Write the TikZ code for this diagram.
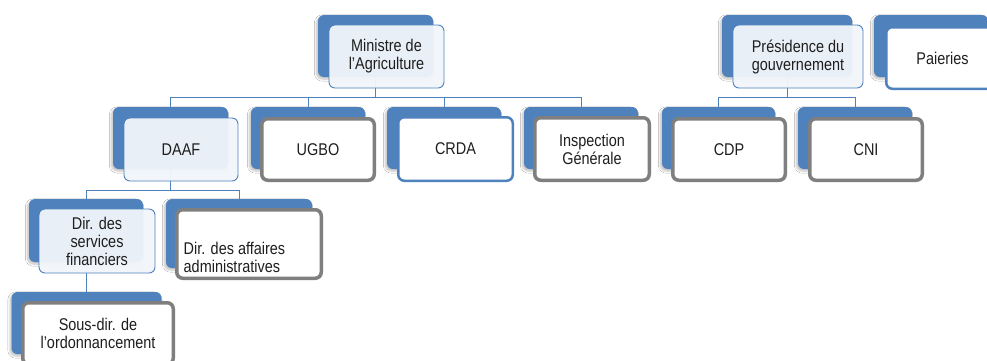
\documentclass[tikz,border=0pt]{standalone}
\usepackage{fontspec}
\setmainfont{Liberation Sans}[FakeStretch=0.85]
\usetikzlibrary{shadows.blur}
\definecolor{obl}{HTML}{4F81BD}
\definecolor{lbl}{HTML}{F2F5FA}
\definecolor{gbd}{HTML}{7F7F7F}
\definecolor{txt}{HTML}{1E1E1E}
\tikzset{
  sz/.style 2 args={minimum width=#1pt, minimum height=#2pt},
  back/.style={fill=obl, draw=none, rounded corners=6pt, inner sep=0pt, outer sep=0pt,
    blur shadow={shadow xshift=-1.5pt, shadow yshift=-2pt, shadow opacity=25, shadow blur steps=6}},
  frontlight/.style={fill=lbl, fill opacity=0.95, text opacity=1, draw=obl, line width=0.9pt, rounded corners=6pt,
    inner sep=0pt, outer sep=0pt, align=center, text=txt},
  frontgray/.style={fill=white, draw=gbd, line width=3.5pt, rounded corners=6pt,
    inner sep=0pt, outer sep=0pt, align=center, text=txt},
  frontblue/.style={fill=white, draw=obl, line width=2.5pt, rounded corners=6pt,
    inner sep=0pt, outer sep=0pt, align=center, text=txt},
  conn/.style={draw=obl, line width=1pt},
  lbltext/.style={inner sep=0pt, align=left, text=txt}
}
\begin{document}
\begin{tikzpicture}[x=1pt, y=-1pt, font=\fontsize{17}{18}\selectfont]
\useasboundingbox (0,0) rectangle (987,360);
\clip (0,0) rectangle (987,360);
\fill[white] (0,0) rectangle (987,360);
% back boxes
\node[back, sz={115}{62}] (minB) at (375.5,46) {};
\node[back, sz={130}{62}] (presB) at (787,46) {};
\node[back, sz={114}{62}] (paiB) at (931,46) {};
\node[back, sz={115}{62}] (daafB) at (170.5,138) {};
\node[back, sz={114}{62}] (ugboB) at (308,138) {};
\node[back, sz={114}{62}] (crdaB) at (444,138) {};
\node[back, sz={114}{62}] (inspB) at (581,138) {};
\node[back, sz={113}{62}] (cdpB) at (718.5,138) {};
\node[back, sz={114}{62}] (cniB) at (855,138) {};
\node[back, sz={114}{63}] (dsfB) at (86,230.5) {};
\node[back, sz={146}{69}] (daaB) at (239,233.5) {};
\node[back, sz={150}{62}] (sousB) at (86.5,323) {};
% connectors
\coordinate (bar1) at (0,97);
\coordinate (bar2) at (0,190);
\foreach \c in {daafB,ugboB,crdaB,inspB}
  \draw[conn] (minB.south) -- (minB.south |- bar1) -| (\c.north);
\foreach \c in {cdpB,cniB}
  \draw[conn] (presB.south) -- (presB.south |- bar1) -| (\c.north);
\foreach \c in {dsfB,daaB}
  \draw[conn] (daafB.south) -- (daafB.south |- bar2) -| (\c.north);
\draw[conn] (dsfB.south) -- (dsfB.south |- sousB.north);
% front boxes
\node[frontlight, sz={115}{63}] (minF) at (386.5,56.5) {Ministre de\\l'Agriculture};
\node[frontlight, sz={130}{63}] (presF) at (798,56.5) {Présidence du\\gouvernement};
\node[frontblue, sz={112.5}{61.5}] (paiF) at (942.5,58) {Paieries};
\node[frontlight, sz={114}{63}] (daafF) at (181,149.5) {DAAF};
\node[frontgray, sz={112.5}{61.5}] (ugboF) at (318,149.5) {UGBO};
\node[frontblue, sz={114.5}{63.5}] (crdaF) at (455.5,149) {CRDA};
\node[frontgray, sz={114.5}{62.5}] (inspF) at (592,149) {Inspection\\Générale};
\node[frontgray, sz={112.5}{61.5}] (cdpF) at (729,149.5) {CDP};
\node[frontgray, sz={112.5}{61.5}] (cniF) at (866,149.5) {CNI};
\node[frontlight, sz={116}{64}] (dsfF) at (97,241) {Dir. des\\services\\financiers};
\node[frontgray, sz={144.5}{68.5}] (daaF) at (249,244) {};
\node[lbltext, anchor=west] (daaT) at (183.5,257) {Dir. des affaires\\administratives};
\node[frontgray, sz={150.5}{61.5}] (sousF) at (98,333.5) {Sous-dir. de\\l'ordonnancement};
\end{tikzpicture}
\end{document}
